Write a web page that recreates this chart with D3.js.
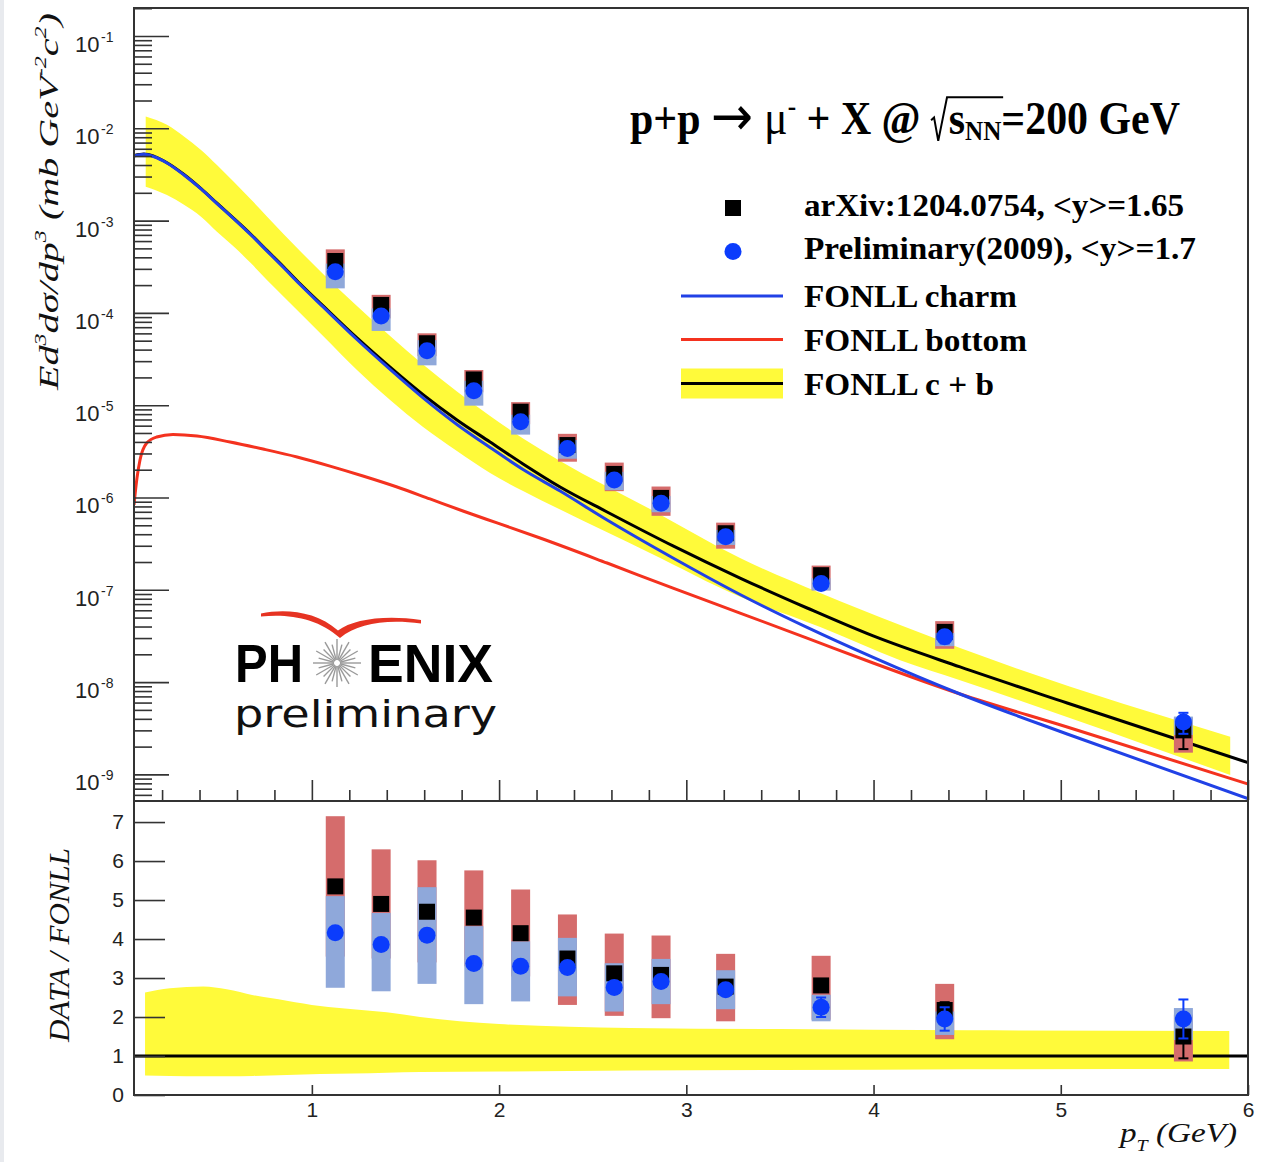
<!DOCTYPE html>
<html><head><meta charset="utf-8">
<script src="https://cdn.jsdelivr.net/npm/d3@7/dist/d3.min.js"></script>
<style>
html,body{margin:0;padding:0;background:#fff;}
svg{display:block;}
text{white-space:pre;}
</style></head>
<body>
<svg id="chart" width="1272" height="1162"></svg>
<script>
// ================= DATA =================
// muon pT bin positions (GeV)
const ptPoints = [1.125, 1.37, 1.615, 1.865, 2.115, 2.365, 2.615, 2.865, 3.21, 3.72, 4.38, 5.655];
// invariant cross section Ed3s/dp3 (mb GeV^-2 c^2)
const xsecPub  = [3.65e-4, 1.22e-4, 4.69e-5, 1.9e-5, 8.5e-6, 3.7e-6, 1.8e-6, 9.9e-7, 4.1e-7, 1.44e-7, 3.5e-8, 3.0e-9];
const xsecPrel = [2.79e-4, 9.25e-5, 3.89e-5, 1.43e-5, 6.6e-6, 3.4e-6, 1.55e-6, 8.65e-7, 3.76e-7, 1.17e-7, 3.1e-8, 3.7e-9];
// DATA / FONLL ratios
const ratioPub  = [5.35, 4.9, 4.7, 4.55, 4.15, 3.5, 3.12, 3.08, 2.78, 2.81, 2.18, 1.5];
const ratioPrel = [4.16, 3.86, 4.1, 3.37, 3.3, 3.27, 2.76, 2.91, 2.7, 2.25, 1.95, 1.95];
// systematic boxes (ratio units)
const sysPubLo  = [3.55, 3.5, 3.4, 3.3, 3.04, 2.31, 2.03, 1.97, 1.89, 1.93, 1.43, 0.86];
const sysPubHi  = [7.15, 6.3, 6.02, 5.76, 5.27, 4.63, 4.14, 4.09, 3.62, 3.57, 2.85, 2.06];
const sysPrelLo = [2.75, 2.66, 2.85, 2.33, 2.4, 2.53, 2.14, 2.33, 2.2, 1.89, 1.54, 1.41];
const sysPrelHi = [5.1, 4.67, 5.33, 4.33, 3.94, 4.03, 3.38, 3.49, 3.2, 2.57, 2.14, 2.23];
// statistical errors (ratio units)
const statPub  = [0.06, 0.06, 0.06, 0.06, 0.06, 0.06, 0.07, 0.08, 0.1, 0.15, 0.2, 0.56];
const statPrel = [0.05, 0.05, 0.05, 0.05, 0.05, 0.06, 0.07, 0.08, 0.1, 0.25, 0.3, 0.5];

// FONLL curves [pT, value]
const fonllCharm = [[0.05,5.01e-3],[0.103,5.22e-3],[0.157,4.92e-3],[0.226,4.21e-3],[0.317,3.12e-3],[0.408,2.20e-3],
  [0.493,1.53e-3],[0.584,1.04e-3],[0.675,6.98e-4],[0.760,4.69e-4],[0.851,3.06e-4],[0.937,2.03e-4],[1.060,1.16e-4],
  [1.241,5.15e-5],[1.418,2.44e-5],[1.594,1.20e-5],[1.775,6.18e-6],[1.952,3.48e-6],[2.128,2.01e-6],[2.326,1.175e-6],
  [2.577,5.70e-7],[2.929,2.21e-7],[3.287,8.89e-8],[3.645,3.91e-8],[3.998,1.85e-8],[4.462,7.43e-9],[5.034,2.74e-9],[6.0,5.46e-10]];
const fonllBottom = [[0.05,8.3e-7],[0.066,1.63e-6],[0.082,2.55e-6],[0.118,3.89e-6],[0.171,4.52e-6],[0.258,4.82e-6],
  [0.387,4.64e-6],[0.563,3.99e-6],[0.739,3.35e-6],[0.921,2.75e-6],[1.097,2.19e-6],[1.273,1.71e-6],[1.455,1.30e-6],
  [1.631,9.64e-7],[1.807,7.14e-7],[1.989,5.30e-7],[2.219,3.64e-7],[2.577,1.95e-7],[2.929,1.04e-7],[3.287,5.60e-8],
  [3.645,3.00e-8],[3.998,1.61e-8],[4.462,7.43e-9],[5.034,3.26e-9],[6.0,7.87e-10]];
const fonllSum = [[0.05,5.07e-3],[0.103,5.27e-3],[0.157,4.97e-3],[0.226,4.24e-3],[0.317,3.16e-3],[0.408,2.22e-3],
  [0.493,1.543e-3],[0.584,1.05e-3],[0.675,7.07e-4],[0.760,4.75e-4],[0.851,3.12e-4],[0.937,2.07e-4],[1.060,1.19e-4],
  [1.241,5.35e-5],[1.418,2.58e-5],[1.594,1.30e-5],[1.775,6.92e-6],[1.952,3.99e-6],[2.128,2.31e-6],[2.326,1.30e-6],
  [2.577,6.97e-7],[2.929,2.99e-7],[3.287,1.34e-7],[3.645,6.35e-8],[3.998,3.16e-8],[4.462,1.46e-8],[5.034,5.94e-9],[6.0,1.34e-9]];
// FONLL c+b uncertainty band [pT, low, high]
const fonllBand = [[0.1125,2.33e-3,1.34e-2],[0.226,1.89e-3,1.09e-2],[0.317,1.48e-3,8.15e-3],[0.408,1.10e-3,5.82e-3],
  [0.493,7.58e-4,4.00e-3],[0.584,5.21e-4,2.62e-3],[0.675,3.44e-4,1.69e-3],[0.760,2.27e-4,1.11e-3],[0.851,1.49e-4,7.07e-4],
  [0.937,9.97e-5,4.68e-4],[1.060,5.62e-5,2.64e-4],[1.241,2.41e-5,1.19e-4],[1.418,1.14e-5,5.62e-5],[1.594,5.81e-6,2.76e-5],
  [1.775,3.19e-6,1.41e-5],[1.952,1.84e-6,7.64e-6],[2.128,1.175e-6,4.36e-6],[2.326,7.41e-7,2.49e-6],[2.806,2.51e-7,7.50e-7],
  [3.287,8.41e-8,2.21e-7],[3.715,3.95e-8,9.22e-8],[4.142,1.73e-8,4.15e-8],[4.462,1.05e-8,2.34e-8],[5.905,9.86e-10,2.56e-9]];
// ratio-panel band [pT, low, high] and reference line
const ratioBand = [[0.109,0.50,2.63],[0.242,0.49,2.74],[0.42,0.48,2.78],[0.545,0.48,2.71],[0.687,0.49,2.56],[0.866,0.51,2.42],
  [1.044,0.54,2.28],[1.22,0.55,2.20],[1.40,0.57,2.12],[1.578,0.59,2.0],[2.0,0.60,1.82],[2.7,0.63,1.72],[3.5,0.64,1.69],
  [4.5,0.66,1.66],[5.9,0.67,1.64]];
const ratioRef = [[0.05,1],[6,1]];

// axis ticks / labels
const decadeExps = [-9,-8,-7,-6,-5,-4,-3,-2,-1];
const ratioTicks = [0,1,2,3,4,5,6,7];
const xMajor = [1,2,3,4,5,6];

// legend text
const titleParts = {a:"p+p ", arrow:"\u2192", mu:" \u03bc", sup:"-", b:" + X @ ", s:"s", sub:"NN", c:"=200 GeV"};
const legendLabels = ["arXiv:1204.0754, <y>=1.65","Preliminary(2009), <y>=1.7","FONLL charm","FONLL bottom","FONLL c + b"];

// ================= STYLE / LAYOUT =================
const L=134, R=1248, T=8, MID=801, B=1095;
const YEL="#fffa3a", BLUEL="#2141e6", REDL="#f4321f", REDBOX="#d56c6c", BLUEBOX="#8fa8da", BLUEM="#0b3cfc", FRAME="#333";
const SERIF="'Liberation Serif','Times New Roman',serif", SANS="'Liberation Sans',Arial,Helvetica,sans-serif";
const BOXW=19, SQ=16, CR=8.5;

const x = d3.scaleLinear().domain([0.05,6]).range([L,R]);
const yTop = d3.scaleLog().domain([5.28e-10,0.201]).range([800,T]);
const yBot = d3.scaleLinear().domain([0,7.54]).range([B,MID]);

const svg = d3.select('#chart');
svg.append('rect').attr('width',1272).attr('height',1162).attr('fill','#fff');
svg.append('rect').attr('x',0).attr('y',0).attr('width',4).attr('height',1162).attr('fill','#e8eaee');

const defs = svg.append('defs');
defs.append('clipPath').attr('id','clipTop').append('rect').attr('x',L).attr('y',T).attr('width',R-L).attr('height',800-T);
defs.append('clipPath').attr('id','clipBot').append('rect').attr('x',L).attr('y',MID).attr('width',R-L).attr('height',B-MID);

const idx = d3.range(ptPoints.length);

// ---------- TOP PANEL ----------
const gTop = svg.append('g').attr('clip-path','url(#clipTop)');
gTop.append('path').datum(fonllBand)
  .attr('d', d3.area().x(d=>x(d[0])).y0(d=>yTop(d[1])).y1(d=>yTop(d[2])).curve(d3.curveMonotoneX))
  .attr('fill', YEL);
const lineTop = d3.line().x(d=>x(d[0])).y(d=>yTop(d[1])).curve(d3.curveMonotoneX);
gTop.append('path').datum(fonllSum).attr('d', lineTop).attr('fill','none').attr('stroke','#000').attr('stroke-width',3);
gTop.append('path').datum(fonllBottom).attr('d', lineTop).attr('fill','none').attr('stroke',REDL).attr('stroke-width',3);
gTop.append('path').datum(fonllCharm).attr('d', lineTop).attr('fill','none').attr('stroke',BLUEL).attr('stroke-width',3);

function drawData(g, yS, val, lo, hi, stLo, stHi) {
  g.append('g').selectAll('rect').data(idx).join('rect')
    .attr('x', i=>x(ptPoints[i])-BOXW/2).attr('width',BOXW)
    .attr('y', i=>yS(hi.pub(i))).attr('height', i=>yS(lo.pub(i))-yS(hi.pub(i)))
    .attr('fill', REDBOX);
  g.append('g').selectAll('rect').data(idx).join('rect')
    .attr('x', i=>x(ptPoints[i])-BOXW/2).attr('width',BOXW)
    .attr('y', i=>yS(hi.prel(i))).attr('height', i=>yS(lo.prel(i))-yS(hi.prel(i)))
    .attr('fill', BLUEBOX);
  const ePub = g.append('g').selectAll('g').data(idx).join('g').attr('stroke','#000').attr('stroke-width',2);
  ePub.append('line').attr('x1',i=>x(ptPoints[i])).attr('x2',i=>x(ptPoints[i])).attr('y1',i=>yS(stLo.pub(i))).attr('y2',i=>yS(stHi.pub(i)));
  ePub.append('line').attr('x1',i=>x(ptPoints[i])-5).attr('x2',i=>x(ptPoints[i])+5).attr('y1',i=>yS(stLo.pub(i))).attr('y2',i=>yS(stLo.pub(i)));
  ePub.append('line').attr('x1',i=>x(ptPoints[i])-5).attr('x2',i=>x(ptPoints[i])+5).attr('y1',i=>yS(stHi.pub(i))).attr('y2',i=>yS(stHi.pub(i)));
  g.append('g').selectAll('rect').data(idx).join('rect')
    .attr('x', i=>x(ptPoints[i])-SQ/2).attr('y', i=>yS(val.pub(i))-SQ/2).attr('width',SQ).attr('height',SQ).attr('fill','#000');
  const ePrel = g.append('g').selectAll('g').data(idx).join('g').attr('stroke',BLUEM).attr('stroke-width',2);
  ePrel.append('line').attr('x1',i=>x(ptPoints[i])).attr('x2',i=>x(ptPoints[i])).attr('y1',i=>yS(stLo.prel(i))).attr('y2',i=>yS(stHi.prel(i)));
  ePrel.append('line').attr('x1',i=>x(ptPoints[i])-5).attr('x2',i=>x(ptPoints[i])+5).attr('y1',i=>yS(stLo.prel(i))).attr('y2',i=>yS(stLo.prel(i)));
  ePrel.append('line').attr('x1',i=>x(ptPoints[i])-5).attr('x2',i=>x(ptPoints[i])+5).attr('y1',i=>yS(stHi.prel(i))).attr('y2',i=>yS(stHi.prel(i)));
  g.append('g').selectAll('circle').data(idx).join('circle')
    .attr('cx', i=>x(ptPoints[i])).attr('cy', i=>yS(val.prel(i))).attr('r',CR).attr('fill',BLUEM);
}

drawData(gTop, yTop,
  {pub:i=>xsecPub[i], prel:i=>xsecPrel[i]},
  {pub:i=>xsecPub[i]*sysPubLo[i]/ratioPub[i], prel:i=>xsecPrel[i]*sysPrelLo[i]/ratioPrel[i]},
  {pub:i=>xsecPub[i]*sysPubHi[i]/ratioPub[i], prel:i=>xsecPrel[i]*sysPrelHi[i]/ratioPrel[i]},
  {pub:i=>xsecPub[i]*(1-statPub[i]/ratioPub[i]), prel:i=>xsecPrel[i]*(1-statPrel[i]/ratioPrel[i])},
  {pub:i=>xsecPub[i]*(1+statPub[i]/ratioPub[i]), prel:i=>xsecPrel[i]*(1+statPrel[i]/ratioPrel[i])});

// ---------- BOTTOM PANEL ----------
const gBot = svg.append('g').attr('clip-path','url(#clipBot)');
gBot.append('path').datum(ratioBand)
  .attr('d', d3.area().x(d=>x(d[0])).y0(d=>yBot(d[1])).y1(d=>yBot(d[2])).curve(d3.curveMonotoneX))
  .attr('fill', YEL);
gBot.append('path').datum(ratioRef).attr('d', d3.line().x(d=>x(d[0])).y(d=>yBot(d[1])))
  .attr('stroke','#000').attr('stroke-width',3).attr('fill','none');
drawData(gBot, yBot,
  {pub:i=>ratioPub[i], prel:i=>ratioPrel[i]},
  {pub:i=>sysPubLo[i], prel:i=>sysPrelLo[i]},
  {pub:i=>sysPubHi[i], prel:i=>sysPrelHi[i]},
  {pub:i=>ratioPub[i]-statPub[i], prel:i=>ratioPrel[i]-statPrel[i]},
  {pub:i=>ratioPub[i]+statPub[i], prel:i=>ratioPrel[i]+statPrel[i]});

// ---------- AXES ----------
function styleAxis(g){ g.select('.domain').remove(); g.attr('color',FRAME); g.selectAll('.tick line').attr('stroke-width',1.6); }
const topMajors = decadeExps.map(e=>Math.pow(10,e));
const topMinors = [];
[-10,-9,-8,-7,-6,-5,-4,-3,-2,-1].forEach(e=>{ for(let m=2;m<=9;m++){ const v=m*Math.pow(10,e); if(v>=5.28e-10 && v<=0.201) topMinors.push(v);} });
svg.append('g').attr('transform',`translate(${L},0)`).call(d3.axisLeft(yTop).tickValues(topMajors).tickSize(-35).tickFormat('')).call(styleAxis);
svg.append('g').attr('transform',`translate(${L},0)`).call(d3.axisLeft(yTop).tickValues(topMinors).tickSize(-18).tickFormat('')).call(styleAxis);
const xMinor = d3.range(1,30).map(k=>k*0.2).filter(v=>Math.abs(v-Math.round(v))>1e-6);
svg.append('g').attr('transform',`translate(0,800)`).call(d3.axisBottom(x).tickValues(xMajor).tickSize(-20).tickFormat('')).call(styleAxis);
svg.append('g').attr('transform',`translate(0,800)`).call(d3.axisBottom(x).tickValues(xMinor).tickSize(-10).tickFormat('')).call(styleAxis);
const axRy = svg.append('g').attr('transform',`translate(${L},0)`).call(d3.axisLeft(yBot).tickValues(ratioTicks).tickSize(-31).tickPadding(10).tickFormat(d3.format('d'))).call(styleAxis);
axRy.selectAll('text').attr('font-size',21).attr('font-family',SANS).attr('fill','#222');
const axRx = svg.append('g').attr('transform',`translate(0,${B})`).call(d3.axisBottom(x).tickValues(xMajor).tickSize(-10).tickPadding(7).tickFormat(d3.format('d'))).call(styleAxis);
axRx.selectAll('text').attr('font-size',21).attr('font-family',SANS).attr('fill','#222');

// decade labels 10^n
const decL = svg.append('g').selectAll('g').data(decadeExps).join('g');
decL.append('text').attr('x',75).attr('y',e=>yTop(Math.pow(10,e))+16).attr('font-size',22).attr('font-family',SANS).attr('fill','#222').text('10');
decL.append('text').attr('x',101).attr('y',e=>yTop(Math.pow(10,e))+6).attr('font-size',14).attr('font-family',SANS).attr('fill','#222').text(e=>'-'+(-e));

// frames
svg.append('rect').attr('x',L).attr('y',T).attr('width',R-L).attr('height',MID-T).attr('fill','none').attr('stroke',FRAME).attr('stroke-width',2);
svg.append('rect').attr('x',L).attr('y',MID).attr('width',R-L).attr('height',B-MID).attr('fill','none').attr('stroke',FRAME).attr('stroke-width',2);

// ---------- RICH TEXT helper ----------
function rich(parent, pieces, o){
  const g = parent.append('g');
  const inner = g.append('g');
  let cx = 0; const marks = {};
  pieces.forEach(p=>{
    if (p.mark){ marks[p.mark]=cx; return; }
    if (p.gap){ cx += p.gap*o.size; return; }
    const fs = o.size*(p.s||1);
    const t = inner.append('text').attr('x',cx).attr('y',(p.dy||0)*o.size)
      .attr('font-size',fs).attr('font-family',p.f||o.family).attr('font-weight',p.w||o.weight||'normal')
      .attr('font-style',o.style||'normal').attr('fill',o.fill||'#000').text(p.t);
    cx += t.node().getComputedTextLength();
  });
  const sx = o.width ? o.width/cx : 1;
  inner.attr('transform',`scale(${sx},1)`);
  g.attr('transform',`translate(${o.x},${o.y})`+(o.rotate?` rotate(${o.rotate})`:''));
  return {g, inner, marks, sx};
}

// title
const TS = 46;
const tt = rich(svg, [
  {t:titleParts.a},{t:titleParts.arrow,f:"'DejaVu Sans',sans-serif",w:'normal',s:1.2,dy:0.02},{t:titleParts.mu,w:'normal',s:1.05},
  {t:titleParts.sup,s:0.6,dy:-0.42},{t:titleParts.b},
  {mark:'rad'},{gap:0.42},{t:titleParts.s},{t:titleParts.sub,s:0.6,dy:0.12},{mark:'radEnd'},{t:titleParts.c}
], {x:630,y:134,size:TS,family:SERIF,weight:'bold',width:550});
{
  const r0 = tt.marks.rad, r1 = tt.marks.radEnd;
  tt.inner.append('path')
    .attr('d',`M${r0},${-0.30*TS} L${r0+0.07*TS},${-0.36*TS} L${r0+0.17*TS},${0.15*TS} L${r0+0.38*TS},${-0.80*TS} L${r1+2},${-0.80*TS}`)
    .attr('fill','none').attr('stroke','#000').attr('stroke-width',2).attr('vector-effect','non-scaling-stroke');
}

// legend
const LG = svg.append('g');
LG.append('rect').attr('x',733-SQ/2).attr('y',208-SQ/2).attr('width',SQ).attr('height',SQ).attr('fill','#000');
LG.append('circle').attr('cx',733).attr('cy',251.5).attr('r',CR).attr('fill',BLUEM);
LG.append('line').attr('x1',681).attr('x2',783).attr('y1',296).attr('y2',296).attr('stroke',BLUEL).attr('stroke-width',3);
LG.append('line').attr('x1',681).attr('x2',783).attr('y1',339.5).attr('y2',339.5).attr('stroke',REDL).attr('stroke-width',3);
LG.append('rect').attr('x',681).attr('y',368.5).attr('width',102).attr('height',30).attr('fill',YEL);
LG.append('line').attr('x1',681).attr('x2',783).attr('y1',383.5).attr('y2',383.5).attr('stroke','#000').attr('stroke-width',3);
const legY=[216,259,307,351,395], legW=[380,392,213,223,190];
legendLabels.forEach((s,i)=>{
  LG.append('text').attr('x',804).attr('y',legY[i]).attr('font-family',SERIF).attr('font-weight','bold')
    .attr('font-size',32).attr('textLength',legW[i]).attr('lengthAdjust','spacingAndGlyphs').attr('fill','#000').text(s);
});

// axis titles
rich(svg, [{t:'Ed'},{t:'3',s:0.6,dy:-0.42},{t:'d\u03c3/dp'},{t:'3',s:0.6,dy:-0.42},{t:' (mb GeV'},{t:'-2',s:0.6,dy:-0.42},{t:'c'},{t:'2',s:0.6,dy:-0.42},{t:')'}],
  {x:58,y:390,size:28,family:SERIF,style:'italic',width:377,rotate:-90,fill:'#111'});
rich(svg, [{t:'DATA / FONLL'}], {x:69,y:1042,size:29,family:SERIF,style:'italic',width:194,rotate:-90,fill:'#111'});
rich(svg, [{t:'p'},{t:'T',s:0.6,dy:0.35},{t:' (GeV)'}], {x:1120,y:1142,size:27,family:SERIF,style:'italic',width:117,fill:'#111'});

// ---------- PHENIX logo ----------
const logo = svg.append('g');
logo.append('path')
  .attr('d','M261,613.5 C285,608.5 316,611 338,630.5 C353,619 386,614.5 421,620 L421,623.5 C387,619 358,623 340,638 C318,618 288,613.5 261,616.5 Z')
  .attr('fill','#e63322');
logo.append('text').attr('x',235).attr('y',682).attr('font-family',SANS).attr('font-weight','bold').attr('font-size',54)
  .attr('textLength',68).attr('lengthAdjust','spacingAndGlyphs').attr('fill','#000').text('PH');
logo.append('text').attr('x',368).attr('y',682).attr('font-family',SANS).attr('font-weight','bold').attr('font-size',54)
  .attr('textLength',125).attr('lengthAdjust','spacingAndGlyphs').attr('fill','#000').text('ENIX');
logo.append('g').selectAll('line').data(d3.range(24)).join('line')
  .attr('x1',k=>337+3*Math.cos(k*Math.PI/12)).attr('y1',k=>663+3*Math.sin(k*Math.PI/12))
  .attr('x2',k=>337+(k%2?19:24)*Math.cos(k*Math.PI/12)).attr('y2',k=>663+(k%2?19:24)*Math.sin(k*Math.PI/12))
  .attr('stroke','#9a9a9a').attr('stroke-width',1.4);
logo.append('text').attr('x',234).attr('y',727).attr('font-family',"'DejaVu Sans',Verdana,sans-serif").attr('font-size',38)
  .attr('textLength',263).attr('lengthAdjust','spacingAndGlyphs').attr('fill','#111').text('preliminary');
</script>
</body></html>
